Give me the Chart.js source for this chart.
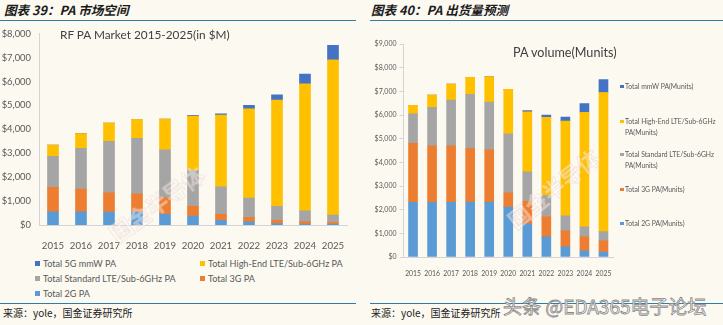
<!DOCTYPE html>
<html>
<head>
<meta charset="utf-8">
<script src="https://cdn.jsdelivr.net/npm/chart.js@4.4.1/dist/chart.umd.min.js"></script>
<style>
  html, body { margin: 0; padding: 0; }
  body {
    width: 723px; height: 325px; position: relative; overflow: hidden;
    background: #fcf9f1; color: #595959;
    font-family: Lato, "Noto Sans CJK SC", sans-serif;
  }
  .abs { position: absolute; white-space: nowrap; }
  .head {
    top: 1px; line-height: 18px; font-size: 12.6px; color: #1b1b1b;
    font-family: "Noto Sans CJK SC", sans-serif; font-weight: bold; font-style: italic;
  }
  .rule { height: 1px; background: #2f7ea6; }
  .src { top: 305px; font-size: 10px; line-height: 16px; color: #222; font-family: "Noto Sans CJK SC", sans-serif; }
  .ttl { color: #404040; }
  .leg { font-size: 9.1px; line-height: 12px; }
  .leg i { display: inline-block; width: 5px; height: 5px; margin-right: 3px; vertical-align: 1px; }
  .rleg { font-size: 6.8px; line-height: 10.5px; }
  .rleg i { position: absolute; left: -5px; top: 3.5px; width: 3.5px; height: 3.5px; }
  .wm {
    font-family: "Noto Sans CJK SC", sans-serif; font-weight: bold; font-size: 22px;
    color: rgba(255, 255, 255, 0.4); -webkit-text-stroke: 0.6px rgba(225, 190, 180, 0.5);
    transform-origin: 0 0;
  }
  .mark {
    font-family: "Noto Sans CJK SC", sans-serif; font-size: 19px; color: #ffffff;
    -webkit-text-stroke: 0.8px #8a8a8a; top: 295px; left: 503px; line-height: 22px;
  }
</style>
</head>
<body>

<div class="abs head" style="left:4px">图表 39：PA 市场空间</div>
<div class="abs rule" style="left:0;top:20px;width:356px"></div>
<div class="abs head" style="left:371px">图表 40：PA 出货量预测</div>
<div class="abs rule" style="left:370px;top:20px;width:353px"></div>

<canvas id="market" class="abs" width="360" height="235" style="left:0;top:20px"></canvas>
<canvas id="volume" class="abs" width="270" height="250" style="left:360px;top:34px"></canvas>

<div class="abs ttl" style="left:60px;top:27px;font-size:11.8px">RF PA Market 2015-2025(in $M)</div>
<div class="abs ttl" style="left:513px;top:45px;font-size:12.6px">PA volume(Munits)</div>

<div id="marketLegend"></div>
<div id="volumeLegend"></div>

<div class="abs wm" style="left:102px;top:222px;transform:rotate(-36deg)">国金半导体</div>
<div class="abs wm" style="left:500px;top:210px;transform:rotate(-39deg)">国金半导体</div>

<div class="abs rule" style="left:0;top:303px;width:356px"></div>
<div class="abs rule" style="left:370px;top:303px;width:353px"></div>
<div class="abs src" style="left:3px">来源：yole，国金证券研究所</div>
<div class="abs src" style="left:371px">来源：yole，国金证券研究所</div>
<div class="abs mark">头条 @EDA365电子论坛</div>

<script>
// years on both category axes
const years = ['2015', '2016', '2017', '2018', '2019', '2020', '2021', '2022', '2023', '2024', '2025'];

// RF PA market, $M per segment
const mkt2G   = [550, 550, 540, 540, 450, 370, 200, 130, 60, 40, 30];
const mkt3G   = [1020, 950, 810, 760, 700, 410, 250, 190, 140, 100, 70];
const mktStd  = [1300, 1710, 2150, 2320, 1990, 1500, 1150, 810, 580, 450, 310];
const mktHigh = [470, 610, 760, 790, 1290, 2270, 3000, 3730, 4440, 5310, 6490];
const mktMmw  = [0, 0, 0, 0, 0, 30, 50, 140, 220, 410, 610];

// PA volume, Munits per segment
const vol2G   = [2310, 2310, 2310, 2320, 2320, 2110, 1400, 850, 430, 260, 210];
const vol3G   = [2490, 2390, 2390, 2270, 2210, 600, 950, 860, 680, 590, 470];
const volStd  = [1250, 1620, 1930, 2280, 2020, 2490, 1250, 880, 630, 430, 390];
const volHigh = [360, 520, 680, 720, 1070, 1880, 2530, 3310, 4000, 4830, 5880];
const volMmw  = [0, 0, 0, 0, 0, 0, 60, 100, 170, 370, 550];

const C2G = '#5b9bd5', C3G = '#ed7d31', CSTD = '#a5a5a5', CHIGH = '#ffc000', CMMW = '#4472c4';

const money = v => '$' + v.toLocaleString('en-US');

function makeChart(id, sets, opts) {
  return new Chart(document.getElementById(id), {
    type: 'bar',
    data: {
      labels: years,
      datasets: sets.map(s => ({
        label: s[0], data: s[1], backgroundColor: s[2],
        barThickness: opts.bar, borderWidth: 0
      }))
    },
    options: {
      responsive: false,
      animation: false,
      layout: { padding: opts.pad },
      plugins: { legend: { display: false }, tooltip: { enabled: false } },
      scales: {
        x: {
          stacked: true,
          grid: { display: false },
          border: { display: true, color: '#d4d4d4' },
          ticks: { color: '#595959', font: { family: 'Lato', size: opts.xFont }, padding: opts.xPad,
                   maxRotation: 0, autoSkip: false },
          afterFit: s => { s.height = opts.xH; }
        },
        y: {
          stacked: true,
          min: 0, max: opts.max,
          grid: { display: opts.yTicks, drawOnChartArea: false, drawTicks: opts.yTicks, tickLength: 4, color: '#d4d4d4' },
          border: { display: true, color: '#d4d4d4' },
          ticks: { stepSize: 1000, callback: money, color: '#595959', font: { family: 'Lato', size: opts.yFont }, padding: opts.yPad },
          afterFit: s => { s.width = opts.yW; }
        }
      }
    }
  });
}

const market = makeChart('market', [
  ['Total 2G PA', mkt2G, C2G],
  ['Total 3G PA', mkt3G, C3G],
  ['Total Standard LTE/Sub-6GHz PA', mktStd, CSTD],
  ['Total High-End LTE/Sub-6GHz PA', mktHigh, CHIGH],
  ['Total 5G mmW PA', mktMmw, CMMW]
], { bar: 11, pad: { left: 0, right: 13, top: 10, bottom: 0 }, max: 8000,
     xFont: 9.6, xPad: 7, xH: 30, yFont: 9.4, yPad: 8, yW: 39, yTicks: false });

const volume = makeChart('volume', [
  ['Total 2G PA(Munits)', vol2G, C2G],
  ['Total 3G PA(Munits)', vol3G, C3G],
  ['Total Standard LTE/Sub-6GHz PA(Munits)', volStd, CSTD],
  ['Total High-End LTE/Sub-6GHz PA(Munits)', volHigh, CHIGH],
  ['Total mmW PA(Munits)', volMmw, CMMW]
], { bar: 9, pad: { left: 0, right: 17, top: 10, bottom: 0 }, max: 9000,
     xFont: 6.8, xPad: 5, xH: 27, yFont: 7, yPad: 3, yW: 43.5, yTicks: true });

// left legend: two columns, top segment first
const mLeg = document.getElementById('marketLegend');
const mPos = [[35, 258], [200, 258], [35, 273], [200, 273], [35, 288]];
market.data.datasets.slice().reverse().forEach((d, i) => {
  const el = document.createElement('div');
  el.className = 'abs leg';
  el.style.left = mPos[i][0] + 'px';
  el.style.top = mPos[i][1] + 'px';
  el.innerHTML = '<i style="background:' + d.backgroundColor + '"></i>' + d.label;
  mLeg.appendChild(el);
});

// right legend: one column, long labels wrap after "Sub-6GHz"
const vLeg = document.getElementById('volumeLegend');
const vTop = [81, 116, 149, 184, 218];
volume.data.datasets.slice().reverse().forEach((d, i) => {
  const el = document.createElement('div');
  el.className = 'abs rleg';
  el.style.left = '625px';
  el.style.top = vTop[i] + 'px';
  el.innerHTML = '<i style="background:' + d.backgroundColor + '"></i>' +
    d.label.replace(' PA(', '<br>PA(').replace(/^(Total (?:2G|3G|mmW))<br>/, '$1 ');
  vLeg.appendChild(el);
});
</script>
</body>
</html>
